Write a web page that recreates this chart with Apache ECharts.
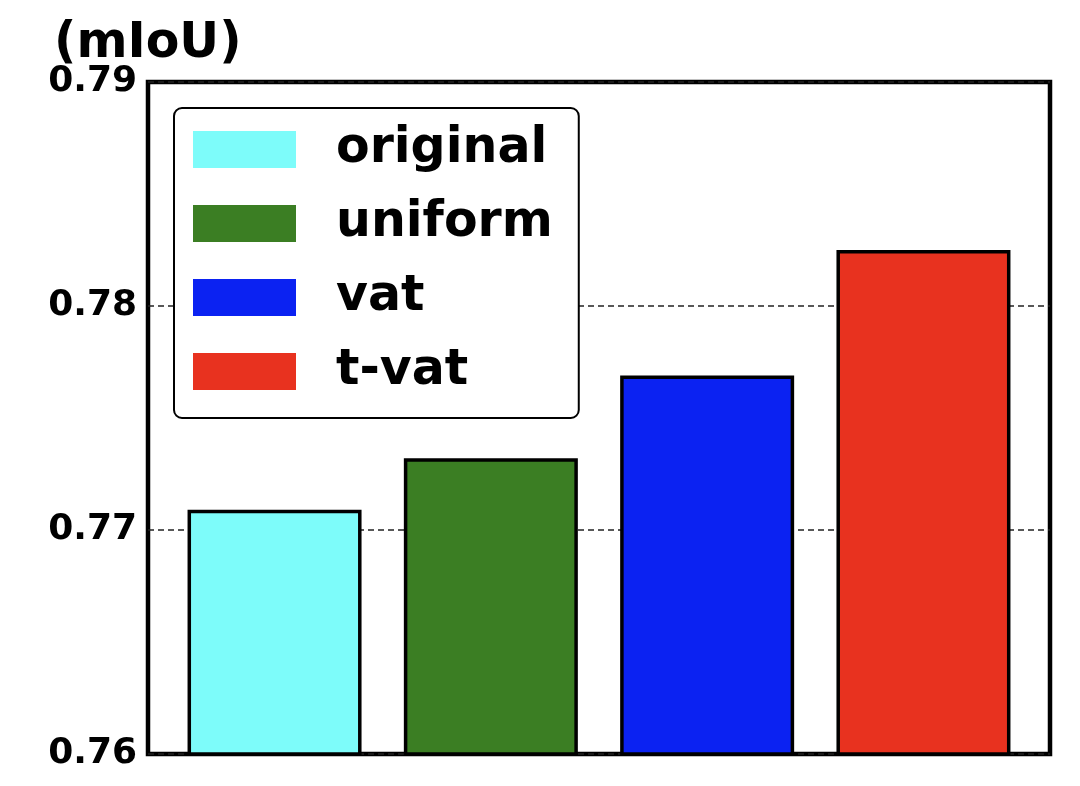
<!DOCTYPE html>
<html>
<head>
<meta charset="utf-8">
<script src="https://cdn.jsdelivr.net/npm/echarts@6/dist/echarts.min.js"></script>
<style>
html,body{margin:0;padding:0;background:#fff;}
#c{width:1080px;height:786px;}
</style>
</head>
<body>
<div id="c"></div>
<script>
var categories = ['original', 'uniform', 'vat', 't-vat'];
var values = [0.7709, 0.7732, 0.7769, 0.7825];
var colors = ['#7dfcfa', '#3b7e23', '#0b22f2', '#e8321f'];
var yTicks = [0.76, 0.77, 0.78, 0.79];
var yAxisTitle = '(mIoU)';

var FONT = 'DejaVu Sans';
var chart = echarts.init(document.getElementById('c'));

var series = categories.map(function (name, i) {
  return {
    name: name,
    type: 'bar',
    barWidth: 174,
    barGap: '-100%',
    data: [[i, values[i]]],
    itemStyle: { color: colors[i], borderColor: '#000', borderWidth: 3.5 },
    emphasis: { disabled: true },
    animation: false
  };
});

chart.setOption({
  animation: false,
  title: {
    text: yAxisTitle, left: 54, top: 20, padding: 0,
    textStyle: { fontFamily: FONT, fontWeight: 'bold', fontSize: 49, color: '#000' }
  },
  grid: {
    left: 148, right: 30, top: 82, bottom: 32,
    show: true, borderColor: '#000', borderWidth: 4.5, backgroundColor: 'transparent'
  },
  legend: {
    left: 174, top: 108,
    orient: 'vertical',
    data: categories.map(function (n) { return { name: n, icon: 'rect' }; }),
    itemWidth: 103, itemHeight: 37, itemGap: 25,
    padding: [17, 26, 22, 19],
    borderColor: '#000', borderWidth: 2, borderRadius: 8,
    backgroundColor: '#fff',
    selectedMode: false,
    itemStyle: { borderWidth: 0 },
    textStyle: {
      fontFamily: FONT, fontWeight: 'bold', fontSize: 49, color: '#000',
      padding: [4, 0, 0, 35]
    }
  },
  xAxis: {
    type: 'value', min: -0.585, max: 3.585,
    axisLine: { show: false }, axisTick: { show: false },
    axisLabel: { show: false }, splitLine: { show: false }
  },
  yAxis: {
    type: 'value', min: 0.76, max: 0.79, interval: 0.01,
    axisLine: { show: false }, axisTick: { show: false },
    axisLabel: {
      fontFamily: FONT, fontWeight: 'bold', fontSize: 36, color: '#000', margin: 11,
      formatter: function (v) {
        for (var k = 0; k < yTicks.length; k++) {
          if (Math.abs(yTicks[k] - v) < 1e-9) return yTicks[k].toFixed(2);
        }
        return '';
      }
    },
    splitLine: { show: true, lineStyle: { color: '#222', width: 1.5, type: [6, 4] } }
  },
  series: series
});
</script>
</body>
</html>
